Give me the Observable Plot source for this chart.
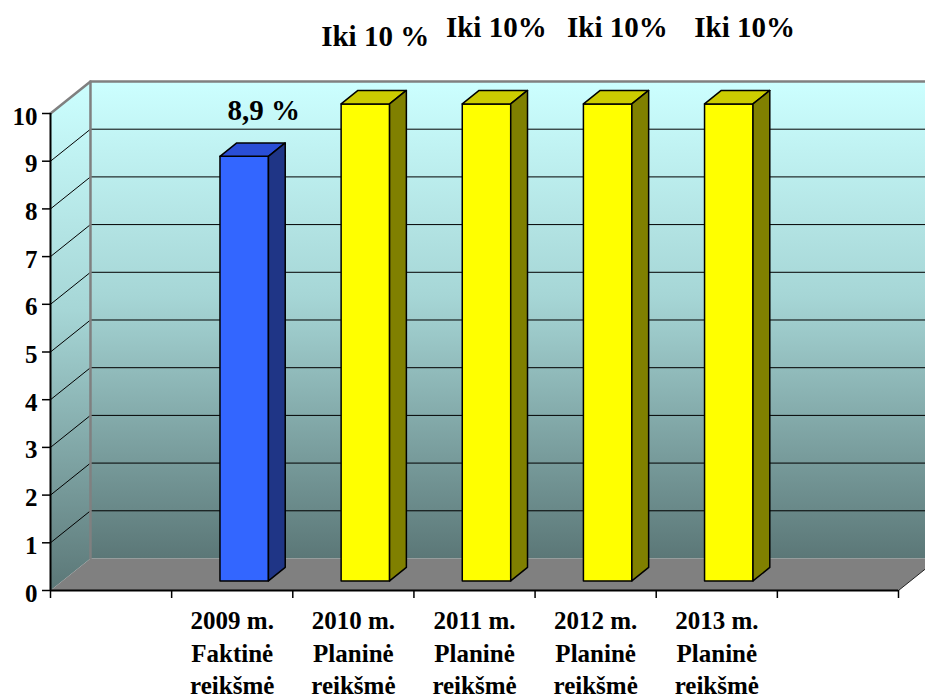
<!DOCTYPE html>
<html>
<head>
<meta charset="utf-8">
<script src="https://cdn.jsdelivr.net/npm/d3@7"></script>
<script src="https://cdn.jsdelivr.net/npm/@observablehq/plot@0.6"></script>
<style>
  html, body { margin: 0; padding: 0; background: #ffffff; }
</style>
</head>
<body>
<div id="chart"></div>
<script>
// ---- data ----
const categories = ["2009 m.\nFaktinė\nreikšmė", "2010 m.\nPlaninė\nreikšmė", "2011 m.\nPlaninė\nreikšmė", "2012 m.\nPlaninė\nreikšmė", "2013 m.\nPlaninė\nreikšmė"];
const values = [8.9, 10, 10, 10, 10];
const valueLabels = ["8,9 %", "Iki 10 %", "Iki 10%", "Iki 10%", "Iki 10%"];
const kinds = ["Faktinė", "Planinė", "Planinė", "Planinė", "Planinė"];
const yTicks = [0, 1, 2, 3, 4, 5, 6, 7, 8, 9, 10];

// ---- layout (3D projection in data units) ----
const SLOTS = 7;          // category slots along x (first and last empty)
const DX = 0.33, DY = 0.671; // full depth offset
const F0 = 0.30, F1 = 0.72;  // bar depth (front, back)
const BAR0 = 0.30, BAR1 = 0.70; // bar extent inside slot
const labelLift = [1.16, 1.6, 1.8, 1.8, 1.8];
const labelShift = [0.26, 0.18, 0.18, 0.18, 0.23];

const P = (x, y, f) => ({x: x + f * DX, y: y + f * DY});
const colors = {
  "Faktinė": {front: "#3366FF", top: "#2A4ED6", side: "#1F3586"},
  "Planinė": {front: "#FFFF00", top: "#CCCC00", side: "#808000"}
};

const faces = [];
values.forEach((v, i) => {
  const s = i + 1, x0 = s + BAR0, x1 = s + BAR1, k = kinds[i];
  const poly = (name, pts) => pts.forEach(p => faces.push({id: name + i, face: name, kind: k, ...p}));
  poly("front", [P(x0,0,F0), P(x1,0,F0), P(x1,v,F0), P(x0,v,F0), P(x0,0,F0)]);
  poly("top",   [P(x0,v,F0), P(x1,v,F0), P(x1,v,F1), P(x0,v,F1), P(x0,v,F0)]);
  poly("side",  [P(x1,0,F0), P(x1,v,F0), P(x1,v,F1), P(x1,0,F1), P(x1,0,F0)]);
});

const backWall = [P(0,0,1), P(SLOTS,0,1), P(SLOTS,10,1), P(0,10,1), P(0,0,1)];
const leftWall = [P(0,0,0), P(0,10,0), P(0,10,1), P(0,0,1), P(0,0,0)];
const floor = [P(0,0,0), P(SLOTS,0,0), P(SLOTS,0,1), P(0,0,1), P(0,0,0)];
const outline = [P(0,0,1), P(0,10,1), P(SLOTS,10,1)];
const leftTop = [P(0,10,0), P(0,10,1)];
const floorEdge = [P(SLOTS,0,0), P(SLOTS,0,1)];
const grid = [];
yTicks.filter(t => t > 0 && t < 10).forEach(t => {
  [P(0,t,0), P(0,t,1), P(SLOTS,t,1)].forEach(p => grid.push({id: t, ...p}));
});

const defs = () => {
  const d = d3.create("svg:defs");
  const g = d.append("linearGradient").attr("id", "wallGrad").attr("x1", 0).attr("y1", 0).attr("x2", 0).attr("y2", 1);
  g.append("stop").attr("offset", "0%").attr("stop-color", "#CCFFFF");
  g.append("stop").attr("offset", "45%").attr("stop-color", "#A6D6D6");
  g.append("stop").attr("offset", "100%").attr("stop-color", "#5B7777");
  return d.node();
};

const faceMark = (face, prop) => kinds.filter((k, i) => kinds.indexOf(k) === i).map(k =>
  Plot.line(faces.filter(d => d.face === face && d.kind === k), {
    x: "x", y: "y", z: "id", fill: colors[k][prop], stroke: "#000", strokeWidth: 1.5, strokeLinejoin: "round", curve: "linear"
  }));

const chart = Plot.plot({
  width: 925,
  height: 700,
  marginLeft: 50,
  marginRight: 27,
  marginTop: 113,
  marginBottom: 110,
  x: {domain: [0, SLOTS], axis: null},
  y: {domain: [0, 10], axis: null},
  style: {fontFamily: "'Liberation Serif', 'Times New Roman', serif", fontWeight: "bold", background: "#ffffff", color: "#000", overflow: "visible"},
  marks: [
    defs,
    Plot.line(backWall, {x: "x", y: "y", fill: "url(#wallGrad)", stroke: "none"}),
    Plot.line(leftWall, {x: "x", y: "y", fill: "url(#wallGrad)", stroke: "none"}),
    Plot.line(floor, {x: "x", y: "y", fill: "#808080", stroke: "none"}),
    Plot.line(grid, {x: "x", y: "y", z: "id", stroke: "#000", strokeWidth: 1}),
    Plot.line(outline, {x: "x", y: "y", stroke: "#808080", strokeWidth: 2.5}),
    Plot.line(leftTop, {x: "x", y: "y", stroke: "#808080", strokeWidth: 2.5}),
    Plot.line(floorEdge, {x: "x", y: "y", stroke: "#222", strokeWidth: 1}),
    Plot.ruleX([0], {y1: 0, y2: 10, stroke: "#000", strokeWidth: 2}),
    Plot.ruleY([0], {x1: 0, x2: SLOTS, stroke: "#000", strokeWidth: 2}),
    ...faceMark("front", "front"),
    ...faceMark("top", "top"),
    ...faceMark("side", "side"),
    Plot.axisY(yTicks, {tickSize: 8, tickFormat: () => "", strokeWidth: 1.5, label: null}),
    Plot.text(yTicks, {x: 0, y: d => d, text: d => String(d), textAnchor: "end", dx: -13, dy: 3, fontSize: 25, fontWeight: "bold", fill: "#000"}),
    Plot.axisX(d3.range(0, SLOTS + 1), {tickSize: 8, tickFormat: () => "", strokeWidth: 1.5, label: null}),
    Plot.text(categories, {x: (d, i) => i + 1.5, y: 0, text: d => d, lineAnchor: "top", dy: 16, fontSize: 25, lineHeight: 1.29, fill: "#000"}),
    Plot.text(valueLabels, {x: (d, i) => i + 1.5 + labelShift[i], y: (d, i) => values[i] + labelLift[i], text: d => d, fontSize: 29, fill: "#000"})
  ]
});
document.getElementById("chart").appendChild(chart);
</script>
</body>
</html>
